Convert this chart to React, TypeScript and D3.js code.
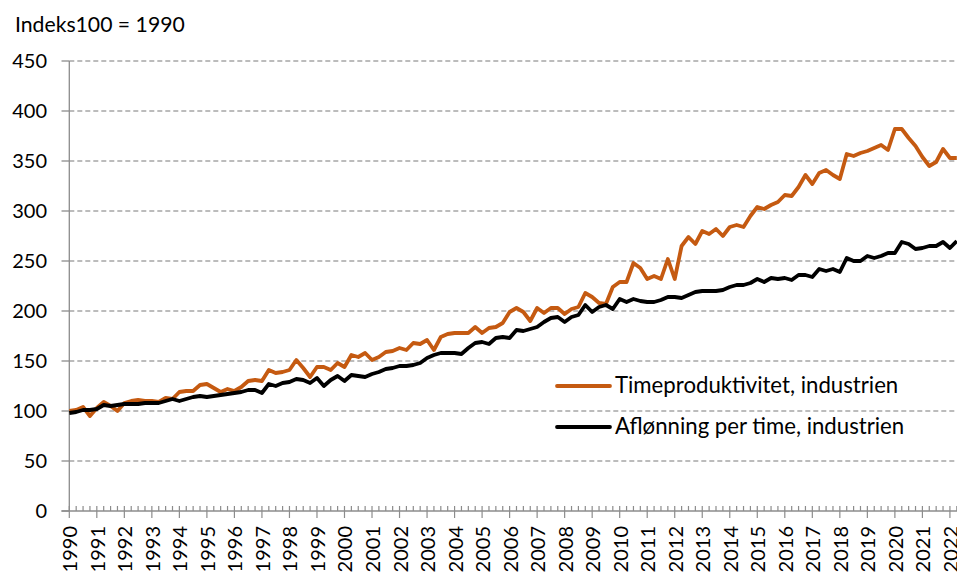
import React from 'react';
import { scaleLinear, line, range } from 'd3';

const W = 957;
const H = 573;
const FONT = 'Lato, "Open Sans", sans-serif';

// quarterly index, 1990 = 100, starting 1990 Q1
const productivity = [
  100, 101, 104, 95, 103, 109, 105, 100, 108, 110,
  111, 110, 110, 109, 113, 112, 119, 120, 120, 126,
  127, 123, 119, 122, 120, 124, 130, 131, 130, 141,
  138, 139, 141, 151, 143, 134, 144, 144, 141, 148,
  144, 156, 154, 158, 151, 154, 159, 160, 163, 161,
  168, 167, 171, 161, 174, 177, 178, 178, 178, 184,
  178, 183, 184, 188, 199, 203, 199, 190, 203, 198,
  203, 203, 197, 202, 204, 218, 214, 208, 207, 224,
  229, 229, 248, 243, 232, 235, 232, 252, 232, 265,
  274, 267, 280, 277, 282, 275, 284, 286, 284, 295,
  304, 302, 306, 309, 316, 315, 324, 336, 327, 338,
  341, 336, 332, 357, 355, 358, 360, 363, 366, 361,
  382, 382, 373, 365, 354, 345, 349, 362, 353, 353,
];

const wages = [
  98, 99, 101, 101, 102, 106, 105, 106, 107, 107,
  107, 108, 108, 108, 110, 112, 110, 112, 114, 115,
  114, 115, 116, 117, 118, 119, 121, 121, 118, 127,
  125, 128, 129, 132, 131, 128, 133, 125, 131, 135,
  130, 136, 135, 134, 137, 139, 142, 143, 145, 145,
  146, 148, 153, 156, 158, 158, 158, 157, 163, 168,
  169, 167, 173, 174, 173, 181, 180, 182, 184, 189,
  193, 194, 189, 194, 196, 206, 199, 204, 206, 202,
  212, 209, 212, 210, 209, 209, 211, 214, 214, 213,
  216, 219, 220, 220, 220, 221, 224, 226, 226, 228,
  232, 229, 233, 232, 233, 231, 236, 236, 234, 242,
  240, 242, 239, 253, 250, 250, 255, 253, 255, 258,
  258, 269, 267, 262, 263, 265, 265, 269, 263, 270,
];

const yearLabels = range(1990, 2023);
const yTicks = [0, 50, 100, 150, 200, 250, 300, 350, 400, 450];

const seriesNames = ['Timeproduktivitet, industrien', 'Aflønning per time, industrien'];
const seriesColors = ['#c55a11', '#000000'];

export default function App() {
  const x = scaleLinear().domain([1990, 2022.25]).range([69.3, 956.8]);
  const y = scaleLinear().domain([0, 450]).range([511, 61]);

  const path = line<number>()
    .x((_, i) => x(1990 + i / 4))
    .y(d => y(d));

  const quarters = range(1990, 2022.5, 0.25);

  return (
    <svg width={W} height={H} style={{ position: 'absolute', left: 0, top: 0 }} fontFamily={FONT}>
      <rect width={W} height={H} fill="#fff" />
      <text x={15} y={31.5} fontSize={21.2} fill="#000">Indeks100 = 1990</text>

      {yTicks.map(t => (
        <g key={t}>
          {t > 0 && (
            <line x1={69.3} x2={W} y1={y(t)} y2={y(t)} stroke="#a6a6a6" strokeWidth={1.3} strokeDasharray="5,3" />
          )}
          <line x1={61.5} x2={69.3} y1={y(t)} y2={y(t)} stroke="#8c8c8c" strokeWidth={1.3} />
          <text x={47} y={y(t)} dy="0.35em" textAnchor="end" fontSize={20} fill="#000">{t}</text>
        </g>
      ))}

      {/* axes */}
      <line x1={69.3} x2={69.3} y1={y(450)} y2={y(0)} stroke="#8c8c8c" strokeWidth={1.3} />
      <line x1={61.5} x2={W} y1={y(0)} y2={y(0)} stroke="#8c8c8c" strokeWidth={1.3} />
      {quarters.map((q, i) => (
        <line key={i} x1={x(q)} x2={x(q)} y1={506} y2={i % 4 === 0 ? 518 : 511} stroke="#8c8c8c" strokeWidth={1.2} />
      ))}
      {yearLabels.map(yr => (
        <text key={yr} transform={`translate(${x(yr) + 1},${526}) rotate(-90)`} textAnchor="end" dy="0.35em" fontSize={20} fill="#000">
          {yr}
        </text>
      ))}

      {/* series */}
      {[productivity, wages].map((s, k) => (
        <path key={k} d={path(s) || ''} fill="none" stroke={seriesColors[k]} strokeWidth={3.8} strokeLinejoin="round" />
      ))}

      {/* legend */}
      {seriesNames.map((n, k) => (
        <g key={n}>
          <line x1={557} x2={610} y1={386 + k * 41} y2={386 + k * 41} stroke={seriesColors[k]} strokeWidth={3.8} strokeLinecap="round" />
          <text x={615} y={393 + k * 41} fontSize={22.2} fill="#000">{n}</text>
        </g>
      ))}
    </svg>
  );
}
